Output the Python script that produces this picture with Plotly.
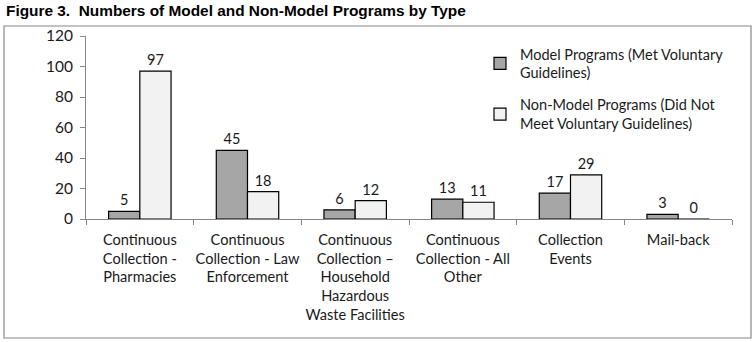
import plotly.graph_objects as go

categories = [
    "Continuous<br>Collection -<br>Pharmacies",
    "Continuous<br>Collection - Law<br>Enforcement",
    "Continuous<br>Collection –<br>Household<br>Hazardous<br>Waste Facilities",
    "Continuous<br>Collection - All<br>Other",
    "Collection<br>Events",
    "Mail-back",
]
model_values = [5, 45, 6, 13, 17, 3]
nonmodel_values = [97, 18, 12, 11, 29, 0]
series_names = [
    "Model Programs (Met Voluntary<br>Guidelines)",
    "Non-Model Programs (Did Not<br>Meet Voluntary Guidelines)",
]
title_text = "Figure 3.  Numbers of Model and Non-Model Programs by Type"
yticks = [0, 20, 40, 60, 80, 100, 120]

FONT = "Lato, 'Open Sans', sans-serif"
W, H = 754, 342
L, R, T, B = 86, 22, 36, 123
pw, ph = W - L - R, H - T - B

def px(x):
    return (x - L) / pw

def py(y):
    return (H - B - y) / ph

fig = go.Figure()
fig.add_trace(go.Bar(
    x=categories, y=model_values, name=series_names[0], legendgroup="model",
    marker=dict(color="#a6a6a6", line=dict(color="#000000", width=1.2)),
    text=model_values, textposition="outside", cliponaxis=False,
    textfont=dict(family=FONT, size=14.5, color="#1a1a1a"),
))
fig.add_trace(go.Bar(
    x=categories, y=nonmodel_values, name=series_names[1], legendgroup="nonmodel",
    marker=dict(color="#f2f2f2", line=dict(color="#000000", width=1.2)),
    text=nonmodel_values, textposition="outside", cliponaxis=False,
    textfont=dict(family=FONT, size=14.5, color="#1a1a1a"),
))

fig.update_layout(
    width=W, height=H,
    margin=dict(l=L, r=R, t=T, b=B, autoexpand=False),
    paper_bgcolor="white", plot_bgcolor="white",
    barmode="group", bargap=0.42, bargroupgap=0,
    font=dict(family=FONT, size=14, color="#1a1a1a"),
    showlegend=True,
    legend=dict(
        x=px(480), y=py(38), xanchor="left", yanchor="top",
        bgcolor="rgba(0,0,0,0)",
        font=dict(family=FONT, size=14.5, color="#1a1a1a"),
        tracegroupgap=10, itemwidth=30,
    ),
    xaxis=dict(
        showline=True, linecolor="#868686", linewidth=1,
        ticks="outside", tickson="boundaries", ticklen=5, tickcolor="#868686",
        tickfont=dict(family=FONT, size=14.6, color="#1a1a1a"),
        tickangle=0, automargin=False, ticklabelstandoff=7,
        showgrid=False, fixedrange=True,
    ),
    yaxis=dict(
        range=[0, 120], tickvals=yticks,
        showline=True, linecolor="#868686", linewidth=1,
        ticks="outside", ticklen=5, tickcolor="#868686",
        tickfont=dict(family=FONT, size=15.5, color="#1a1a1a"),
        automargin=False, ticklabelstandoff=4,
        showgrid=False, zeroline=False, fixedrange=True,
    ),
    shapes=[dict(
        type="rect", xref="paper", yref="paper",
        x0=px(4), x1=px(751), y0=py(338), y1=py(26),
        line=dict(color="#888888", width=1.2), fillcolor="rgba(0,0,0,0)",
        layer="below",
    )],
    annotations=[dict(
        text="<b>" + title_text + "</b>", xref="paper", yref="paper",
        x=px(4), y=py(10), xanchor="left", yanchor="middle", showarrow=False,
        font=dict(family="'Liberation Sans Narrow', 'Liberation Sans', Arial", size=15.4, color="#000000"),
    )],
)

fig.write_html("out.html")
